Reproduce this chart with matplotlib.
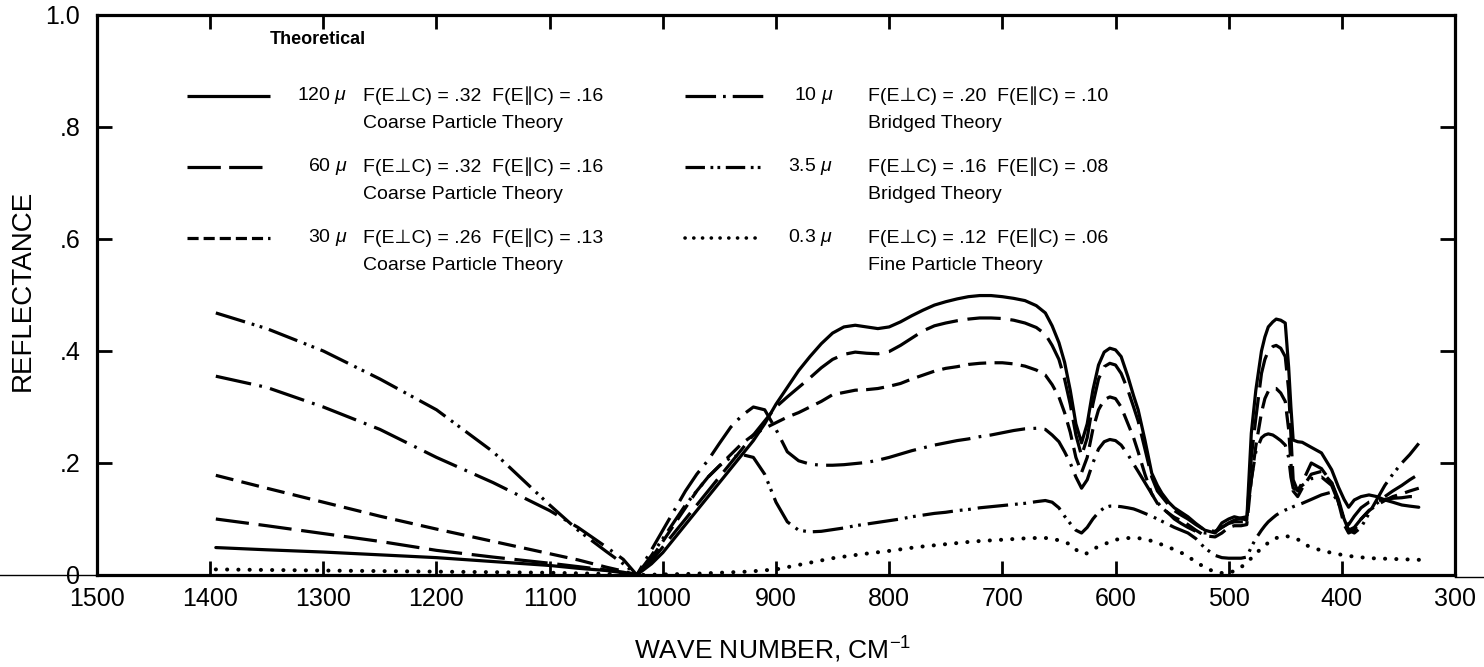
import matplotlib
matplotlib.use('Agg')
import matplotlib.pyplot as plt
from matplotlib.lines import Line2D

plt.rcParams['font.family'] = ['Liberation Sans', 'DejaVu Sans']
plt.rcParams['mathtext.fontset'] = 'custom'
plt.rcParams['mathtext.rm'] = 'Liberation Sans'
plt.rcParams['mathtext.it'] = 'Liberation Sans:italic'
plt.rcParams['lines.scale_dashes'] = False

# ---------------- data ----------------
WN_LEFT = [1395, 1350, 1300, 1250, 1200, 1150, 1100, 1075, 1050, 1035, 1023]
WN_RIGHT = [1010, 1000, 990, 980, 970, 960, 950, 940, 930, 920,
            910, 900, 890, 880, 870, 860, 850, 840, 830, 820,
            810, 800, 790, 780, 770, 760, 750, 740, 730, 720,
            710, 700, 690, 680, 670, 662, 656, 650, 645, 640,
            635, 630, 625, 620, 615, 610, 605, 600, 595, 589,
            584, 580, 574, 568, 563, 559, 553, 548, 542, 536,
            529, 521, 512, 506, 500, 495, 489, 484, 480, 476,
            471, 468, 465, 461, 458, 454, 450, 447, 445, 443,
            439, 435, 427, 418, 409, 403, 398, 394, 389, 383,
            376, 369, 362, 355, 347, 340, 332]

R120_LEFT = [.049, .045, .041, .036, .031, .024, .017, .012, .008, .004, 0]
R120_RIGHT = [.02, .04, .065, .09, .115, .14, .165, .19, .215, .24,
              .27, .305, .335, .365, .39, .413, .432, .443, .446, .443,
              .440, .443, .452, .463, .473, .482, .488, .493, .497, .499,
              .499, .497, .494, .490, .481, .468, .445, .415, .38, .33,
              .27, .236, .27, .33, .375, .398, .405, .402, .39, .354,
              .32, .295, .241, .182, .16, .146, .13, .12, .112, .104,
              .092, .08, .075, .093, .1, .104, .101, .098, .253, .33,
              .40, .425, .443, .452, .457, .455, .45, .371, .30, .241,
              .238, .237, .228, .218, .188, .157, .135, .121, .134, .140,
              .143, .14, .134, .13, .125, .123, .121]

R60_LEFT = [.10, .088, .074, .06, .044, .032, .021, .015, .009, .005, 0]
R60_RIGHT = [.025, .05, .075, .10, .125, .15, .175, .20, .225, .25,
             .275, .30, .318, .335, .352, .37, .385, .394, .398, .396,
             .395, .399, .41, .423, .436, .445, .45, .454, .457, .459,
             .459, .458, .455, .45, .442, .43, .41, .385, .35, .305,
             .25, .213, .245, .305, .35, .372, .378, .375, .36, .33,
             .30, .275, .225, .175, .15, .14, .125, .115, .107, .1,
             .09, .08, .078, .085, .092, .095, .095, .095, .21, .28,
             .36, .385, .40, .408, .41, .405, .39, .33, .25, .17,
             .15, .165, .2, .19, .165, .135, .1, .09, .105, .12,
             .13, .133, .135, .137, .138, .14, .14]

R30_LEFT = [.178, .155, .13, .105, .082, .06, .038, .027, .014, .007, 0]
R30_RIGHT = [.03, .06, .09, .12, .15, .175, .195, .215, .235, .25,
             .262, .272, .282, .29, .30, .31, .322, .326, .33, .331,
             .333, .337, .342, .35, .357, .364, .369, .372, .376, .378,
             .379, .379, .377, .373, .366, .357, .34, .318, .29, .255,
             .21, .183, .21, .26, .295, .313, .318, .315, .3, .27,
             .245, .22, .18, .145, .128, .12, .11, .103, .097, .09,
             .08, .07, .068, .075, .085, .088, .088, .09, .17, .23,
             .29, .315, .328, .333, .333, .325, .31, .26, .2, .15,
             .14, .155, .18, .185, .165, .13, .09, .075, .08, .1,
             .115, .125, .133, .14, .145, .15, .155]

R10_LEFT = [.355, .335, .30, .26, .21, .165, .115, .085, .05, .028, 0]
R10_RIGHT = [.045, .08, .115, .15, .18, .205, .235, .264, .285, .3,
             .295, .26, .22, .204, .198, .196, .196, .197, .199, .201,
             .205, .21, .216, .222, .227, .232, .236, .24, .243, .247,
             .25, .254, .258, .261, .262, .26, .25, .238, .22, .2,
             .175, .155, .17, .2, .225, .238, .242, .24, .232, .215,
             .198, .185, .165, .145, .13, .12, .11, .1, .092, .085,
             .078, .075, .076, .085, .093, .098, .102, .104, .17, .22,
             .245, .25, .252, .25, .246, .24, .232, .21, .175, .155,
             .152, .16, .172, .175, .16, .13, .1, .08, .085, .1,
             .115, .128, .14, .15, .16, .17, .18]

R35_LEFT = [.468, .44, .40, .35, .295, .22, .125, .08, .042, .02, 0]
R35_RIGHT = [.035, .065, .095, .125, .15, .175, .195, .21, .215, .21,
             .18, .13, .095, .08, .077, .078, .081, .084, .088, .091,
             .094, .097, .10, .104, .107, .11, .112, .115, .117, .12,
             .122, .124, .126, .128, .131, .133, .13, .12, .105, .092,
             .08, .075, .085, .1, .112, .12, .123, .123, .122, .12,
             .118, .115, .11, .105, .1, .096, .09, .085, .08, .075,
             .065, .048, .035, .031, .03, .03, .03, .032, .05, .065,
             .08, .088, .095, .102, .107, .112, .116, .118, .12, .122,
             .125, .128, .135, .143, .148, .13, .1, .08, .075, .085,
             .11, .135, .16, .18, .2, .215, .235]

WN_FINE = [1395, 1350, 1300, 1250, 1200, 1150, 1100, 1050, 1023, 1000,
           975, 950, 925, 900, 875, 850, 825, 800, 775, 750,
           725, 700, 675, 660, 650, 640, 632, 626, 618, 610,
           600, 590, 580, 570, 560, 550, 540, 530, 520, 510,
           500, 490, 480, 470, 460, 450, 440, 430, 420, 410,
           400, 390, 375, 360, 345, 330]
R_FINE = [.01, .009, .008, .007, .006, .005, .004, .002, 0, .001,
          .002, .004, .006, .01, .02, .03, .037, .043, .05, .055,
          .06, .063, .066, .066, .062, .055, .04, .038, .048, .055,
          .063, .066, .066, .062, .055, .047, .038, .025, .012, .004,
          .003, .012, .03, .05, .065, .07, .065, .052, .045, .04,
          .036, .033, .03, .029, .028, .027]

SIZES = ['120', '60', '30', '10', '3.5', '0.3']
F_PERP = ['.32', '.32', '.26', '.20', '.16', '.12']
F_PAR = ['.16', '.16', '.13', '.10', '.08', '.06']
THEORY = ['Coarse Particle Theory', 'Coarse Particle Theory', 'Coarse Particle Theory',
          'Bridged Theory', 'Bridged Theory', 'Fine Particle Theory']

XTICKS = [1500, 1400, 1300, 1200, 1100, 1000, 900, 800, 700, 600, 500, 400, 300]
YTICKS = [0, .2, .4, .6, .8, 1.0]
YTICKLABELS = ['0', '.2', '.4', '.6', '.8', '1.0']

# ---------------- styles ----------------
LW = 2.3
PLOT_STYLES = [
    dict(linestyle='-'),
    dict(linestyle=(0, (24, 7))),
    dict(linestyle=(0, (13, 6))),
    dict(linestyle=(0, (26, 6, 2, 6))),
    dict(linestyle=(0, (22, 5, 2, 4, 2, 5))),
    dict(linestyle=(0, (0.1, 8.0)), dash_capstyle='round', lw=2.9),
]
LEG_STYLES = [
    dict(linestyle='-'),
    dict(linestyle=(0, (24, 6))),
    dict(linestyle=(0, (8, 3.6))),
    dict(linestyle=(0, (22, 5, 2, 5))),
    dict(linestyle=(0, (14, 4, 2, 3, 2, 4))),
    dict(linestyle=(0, (0.1, 6.2)), dash_capstyle='round', lw=2.6),
]

W, H = 1484, 667
fig = plt.figure(figsize=(W / 100, H / 100), dpi=100)
ax = fig.add_axes([97 / W, 1 - 575 / H, (1455 - 97) / W, 560 / H])

series = [
    (WN_LEFT + WN_RIGHT, R120_LEFT + R120_RIGHT),
    (WN_LEFT + WN_RIGHT, R60_LEFT + R60_RIGHT),
    (WN_LEFT + WN_RIGHT, R30_LEFT + R30_RIGHT),
    (WN_LEFT + WN_RIGHT, R10_LEFT + R10_RIGHT),
    (WN_LEFT + WN_RIGHT, R35_LEFT + R35_RIGHT),
    (WN_FINE, R_FINE),
]
for (x, y), st in zip(series, PLOT_STYLES):
    kw = dict(color='black', lw=LW, solid_capstyle='round', dash_capstyle='butt')
    kw.update(st)
    ax.plot(x, y, **kw)

ax.set_xlim(1500, 300)
ax.set_ylim(0, 1.0)
ax.set_xticks(XTICKS)
ax.set_xticklabels([str(t) for t in XTICKS])
ax.set_yticks(YTICKS)
ax.set_yticklabels(YTICKLABELS)
ax.tick_params(axis='x', direction='in', top=True, bottom=True, length=10, width=2,
               labelsize=18, pad=9)
ax.tick_params(axis='y', direction='in', left=True, right=True, length=11, width=2,
               labelsize=18, pad=12)
for s in ax.spines.values():
    s.set_linewidth(2.3)


def fx(px):
    return px / W


def fy(py):
    return 1 - py / H


# legend block
fig.text(fx(270), fy(40), 'Theoretical', fontsize=13, fontweight='bold', va='center', ha='left')
ROWS = [96, 167, 238]
COLS = [(187, 270, 347, 363), (685, 763, 833, 868)]
for i in range(6):
    col = COLS[i // 3]
    ry = ROWS[i % 3]
    kw = dict(color='black', lw=LW, solid_capstyle='butt', dash_capstyle='butt')
    kw.update(LEG_STYLES[i])
    fig.add_artist(Line2D([fx(col[0]), fx(col[1])], [fy(ry), fy(ry)], **kw))
    fig.text(fx(col[2]), fy(ry), SIZES[i] + r' $\mu$', fontsize=14, ha='right', va='center')
    fig.text(fx(col[3]), fy(ry),
             'F(E\u22a5C) = %s  F(E\u2225C) = %s' % (F_PERP[i], F_PAR[i]),
             fontsize=14, ha='left', va='center')
    fig.text(fx(col[3]), fy(ry + 28), THEORY[i], fontsize=14, ha='left', va='center')

# axis labels
fig.text(fx(23), fy(290), 'REFLECTANCE', rotation=90, fontsize=20, ha='center', va='center')
fig.text(fx(773), fy(650), 'WAVE NUMBER, CM$^{-1}$', fontsize=19, ha='center', va='center')

# baseline line visible beyond the frame (through the "0" label)
fig.add_artist(Line2D([0, fx(97)], [fy(575), fy(575)], color='black', lw=1.0))
fig.add_artist(Line2D([fx(1455), 1], [fy(577), fy(577)], color='black', lw=1.0))

fig.savefig('out.png', dpi=100)
